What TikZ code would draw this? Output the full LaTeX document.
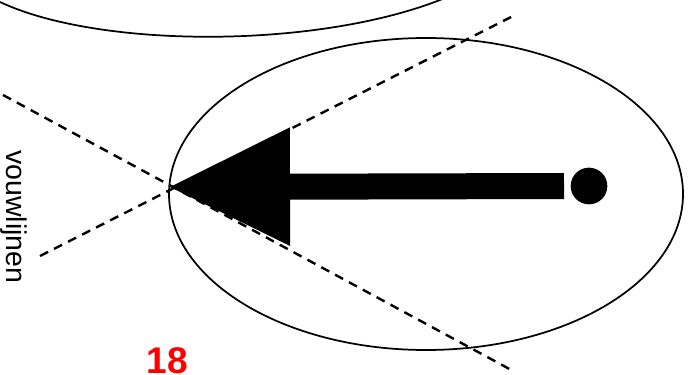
\documentclass[tikz,border=0pt]{standalone}
\usepackage{fontspec}
\setmainfont{Liberation Sans}
\usetikzlibrary{arrows.meta}

\begin{document}
\begin{tikzpicture}[x=0.75pt,y=-0.75pt,
        fold/.style={dash pattern=on 6.8pt off 5pt, line width=1.8pt},
        rim/.style={line width=1.3pt}]
            \useasboundingbox (0,0) rectangle (691,374);
            % vorige flap
            \draw[rim] (0,2) .. controls (100,49) and (320,49) .. (445,-2);
            % vel
            \draw[rim] (426,194) ellipse [x radius=257, y radius=156];
            % vouwlijnen
            \coordinate (tip) at (170,187);
            \coordinate (fa) at (3,95);
            \coordinate (fb) at (515,372);
            \coordinate (fc) at (40,256);
            \coordinate (fd) at (515,15);
            \draw[fold] (fa) -- (fb);
            \draw[fold] (fc) -- (fd);
            % pijl
            \node[circle, fill, inner sep=0pt, minimum size=27.5pt] (dot) at (589,186) {};
            \coordinate (tail) at (564,186);
            \draw[line width=19.5pt, -{Triangle[length=90pt, width=89pt, line width=0pt]}] (tail) -- (tip);
            \node[rotate=-90, inner sep=0pt, font=\fontsize{21.4}{22}\selectfont] (label) at (14,217) {vouwlijnen};
            \node[red, inner sep=0pt, font=\fontsize{27.8}{28}\selectfont\bfseries] (nr) at (167.5,361) {18};
\end{tikzpicture}
\end{document}
